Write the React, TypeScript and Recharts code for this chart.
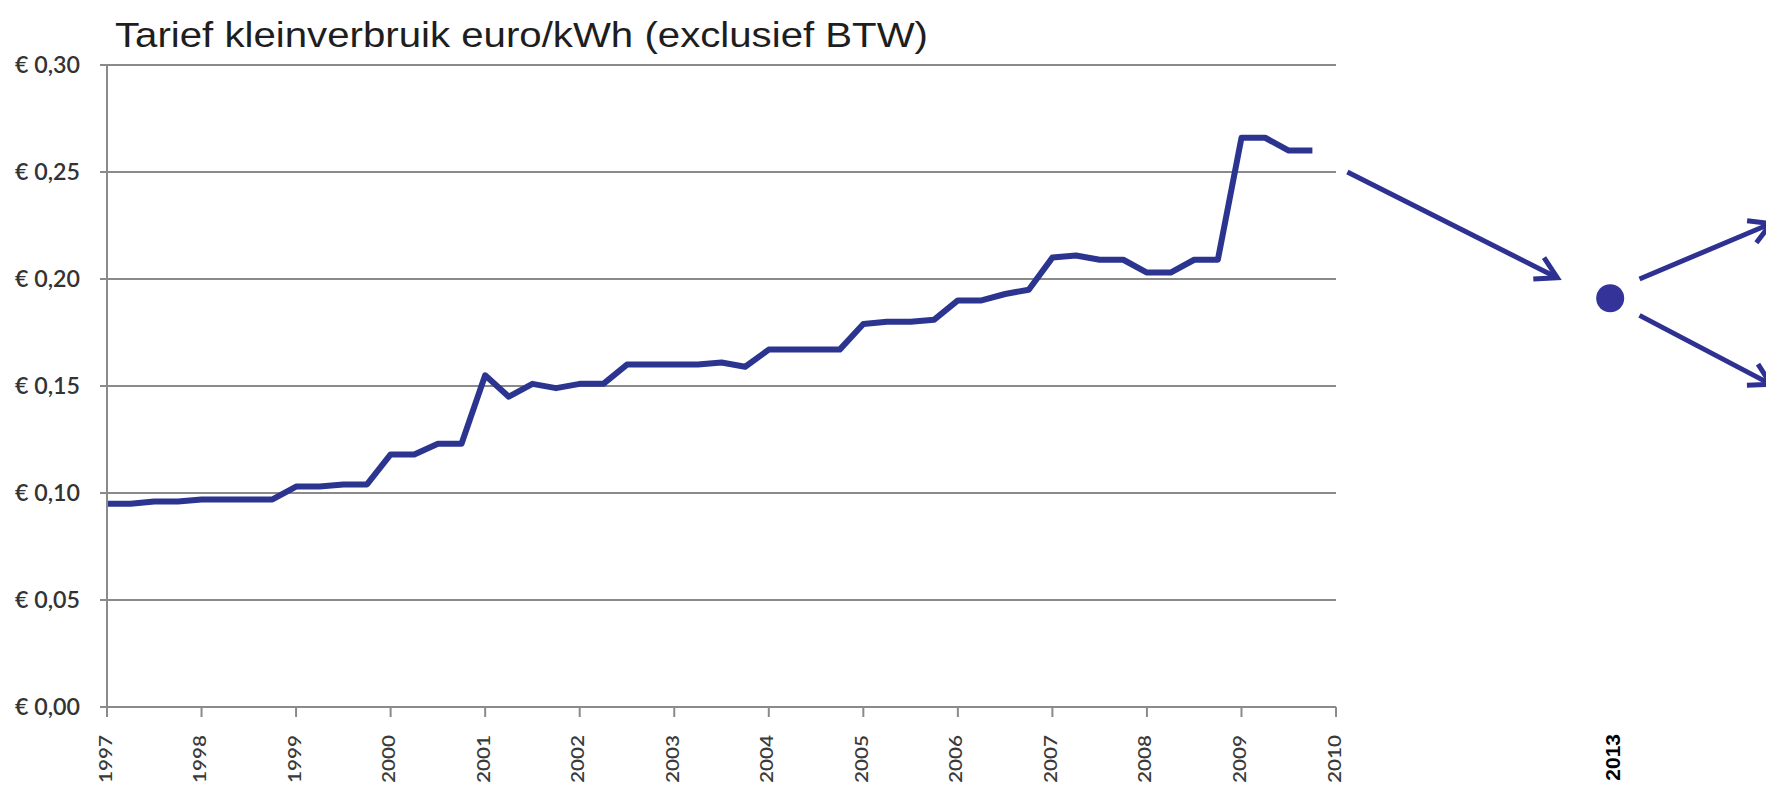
import { ComposedChart, Line, Scatter, XAxis, YAxis, ReferenceLine } from 'recharts'

// quarterly tariff, euro per kWh excl. VAT
const quarters = [
  1997, 1997.25, 1997.5, 1997.75,
  1998, 1998.25, 1998.5, 1998.75,
  1999, 1999.25, 1999.5, 1999.75,
  2000, 2000.25, 2000.5, 2000.75,
  2001, 2001.25, 2001.5, 2001.75,
  2002, 2002.25, 2002.5, 2002.75,
  2003, 2003.25, 2003.5, 2003.75,
  2004, 2004.25, 2004.5, 2004.75,
  2005, 2005.25, 2005.5, 2005.75,
  2006, 2006.25, 2006.5, 2006.75,
  2007, 2007.25, 2007.5, 2007.75,
  2008, 2008.25, 2008.5, 2008.75,
  2009, 2009.25, 2009.5, 2009.75,
]
const tariff = [
  0.095, 0.095, 0.096, 0.096,
  0.097, 0.097, 0.097, 0.097,
  0.103, 0.103, 0.104, 0.104,
  0.118, 0.118, 0.123, 0.123,
  0.155, 0.145, 0.151, 0.149,
  0.151, 0.151, 0.160, 0.160,
  0.160, 0.160, 0.161, 0.159,
  0.167, 0.167, 0.167, 0.167,
  0.179, 0.180, 0.180, 0.181,
  0.190, 0.190, 0.193, 0.195,
  0.210, 0.211, 0.209, 0.209,
  0.203, 0.203, 0.209, 0.209,
  0.266, 0.266, 0.260, 0.260,
]
const yearTicks = [1997, 1998, 1999, 2000, 2001, 2002, 2003, 2004, 2005, 2006, 2007, 2008, 2009, 2010]
const priceTicks = [0, 0.05, 0.1, 0.15, 0.2, 0.25, 0.3]

// the 2013 outlook point and the arrows around it
const outlookYear = [2012.9]
const outlookTariff = [0.191]
const outlookLabel = ['2013']
const arrowFrom = [[2010.12, 0.25], [2013.21, 0.2], [2013.21, 0.183]]
const arrowTo = [[2012.34, 0.2006], [2014.6, 0.2259], [2014.6, 0.1508]]

const series = quarters.map((t, i) => ({ t, v: tariff[i] }))
const outlook = outlookYear.map((t, i) => ({ t, v: outlookTariff[i] }))

const GRID = '#8a8a8a'
const NAVY = '#2b3590'
const ARROW = '#2e3092'

const euro = (v: number) => '€ ' + v.toFixed(2).replace('.', ',')

const YTick = (props: any) => {
  const { x, y, payload } = props
  return (
    <text x={x} y={y} dy={8} textAnchor="end" fontFamily="Lato" fontWeight={600} fontSize={22} fill="#333"
      textLength={65} lengthAdjust="spacingAndGlyphs">
      {euro(payload.value)}
    </text>
  )
}

const XTick = (props: any) => {
  const { x, y, payload } = props
  const idx = outlookYear.indexOf(payload.value)
  if (idx >= 0) {
    return (
      <text transform={`translate(${x + 9.5},${y - 1}) rotate(-90)`} textAnchor="end"
        fontFamily="Liberation Sans, Arial" fontWeight="bold" fontSize={21} fill="#000">
        {outlookLabel[idx]}
      </text>
    )
  }
  return (
    <g>
      <line x1={x} x2={x} y1={y - 28} y2={y - 18} stroke={GRID} strokeWidth={2} />
      <text transform={`translate(${x + 4.5},${y}) rotate(-90)`} textAnchor="end"
        fontFamily="Lato" fontWeight={600} fontSize={18} fill="#3a3a3a" textLength={48} lengthAdjust="spacingAndGlyphs">
        {payload.value}
      </text>
    </g>
  )
}

const Arrow = (props: any) => {
  const { x1, y1, x2, y2 } = props
  const ang = Math.atan2(y2 - y1, x2 - x1)
  const len = 24
  const spread = 0.52
  const ax = x2 - len * Math.cos(ang - spread)
  const ay = y2 - len * Math.sin(ang - spread)
  const bx = x2 - len * Math.cos(ang + spread)
  const by = y2 - len * Math.sin(ang + spread)
  return (
    <g>
      <line x1={x1} y1={y1} x2={x2} y2={y2} stroke={ARROW} strokeWidth={5} />
      <polyline points={`${ax},${ay} ${x2},${y2} ${bx},${by}`} fill="none" stroke={ARROW} strokeWidth={5} />
    </g>
  )
}

export default function App() {
  return (
    <div style={{ position: 'absolute', left: 0, top: 0, width: 1766, height: 792, background: '#fff' }}>
      <ComposedChart width={1766} height={792} margin={{ top: 65, right: 0, bottom: 0, left: 0 }}>
        <XAxis dataKey="t" type="number" domain={[1997, 2014.548]} ticks={[...yearTicks, ...outlookYear]}
          interval={0} height={85} axisLine={false} tickLine={false} tickSize={10} tickMargin={18} tick={<XTick />} />
        <YAxis dataKey="v" type="number" domain={[0, 0.3]} ticks={priceTicks} interval={0} width={107}
          axisLine={{ stroke: GRID, strokeWidth: 2 }} tickLine={{ stroke: GRID, strokeWidth: 2 }}
          tickSize={7} tickMargin={20} tick={<YTick />} />
        {priceTicks.map((p) => (
          <ReferenceLine key={p} segment={[{ x: 1997, y: p }, { x: 2010, y: p }]} stroke={GRID} strokeWidth={2} ifOverflow="visible" />
        ))}
        <Line data={series} dataKey="v" type="linear" stroke={NAVY} strokeWidth={6} dot={false}
          strokeLinejoin="round" isAnimationActive={false} />
        <Scatter data={outlook} dataKey="v" fill="#333399" isAnimationActive={false}
          shape={(p: any) => <circle cx={p.cx} cy={p.cy} r={14} fill="#333399" />} />
        {arrowFrom.map((a, i) => (
          <ReferenceLine key={'arrow' + i} segment={[{ x: a[0], y: a[1] }, { x: arrowTo[i][0], y: arrowTo[i][1] }]}
            ifOverflow="visible" shape={<Arrow />} />
        ))}
      </ComposedChart>
      <svg width={1766} height={792} style={{ position: 'absolute', left: 0, top: 0, pointerEvents: 'none' }}>
        <text x={115} y={47} fontFamily="Liberation Sans, Arial" fontSize={35} fill="#1e1e1e"
          textLength={813} lengthAdjust="spacingAndGlyphs">
          Tarief kleinverbruik euro/kWh (exclusief BTW)
        </text>
      </svg>
    </div>
  )
}
